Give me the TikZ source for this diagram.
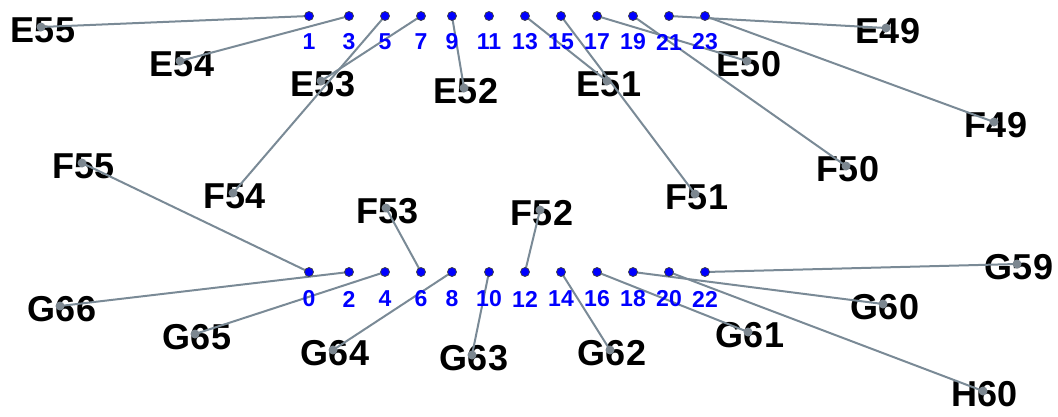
\documentclass[tikz,border=0pt]{standalone}
\usepackage{fontspec}
\setmainfont{Liberation Sans}
\definecolor{pinBlue}{HTML}{0000FF}
\definecolor{wireGray}{HTML}{7A8A96}
\definecolor{tipGray}{HTML}{7C8790}
\usetikzlibrary{positioning,backgrounds}

\begin{document}
\begin{tikzpicture}[x=1pt, y=-1pt,
  pin/.style={circle, fill=pinBlue, draw=black!75, line width=0.7pt, inner sep=0pt, minimum size=9pt},
  tip/.style={circle, fill=tipGray, inner sep=0pt, minimum size=9pt},
  pinnum/.style={font=\fontsize{23}{23}\selectfont\bfseries, text=pinBlue, inner sep=0pt},
  tag/.style={font=\fontsize{36}{36}\selectfont\bfseries, text=black, inner sep=0pt},
  wire/.style={wireGray, line width=2pt}]
  \useasboundingbox (0,0) rectangle (1058,416);

  % Header pins, odd row on top, even row below
  \foreach \n/\x in {1/309,3/349,5/385,7/421,9/452,11/489,13/525,15/561,17/597,19/633,21/669,23/705} {
    \node[pin] (p\n) at (\x,16) {};
    \node[pinnum] (n\n) at (\x,42) {\n};
  }
  \foreach \n/\x in {0/309,2/349,4/385,6/421,8/452,10/489,12/525,14/561,16/597,18/633,20/669,22/705} {
    \node[pin] (p\n) at (\x,272) {};
    \node[pinnum] (n\n) at (\x,299) {\n};
  }

  % Signal tags, upper group
  \node[tip] (E55) at (41,27) {};
  \node[tip] (E54) at (180,61) {};
  \node[tip] (E53) at (321,81) {};
  \node[tip] (E52) at (464,88) {};
  \node[tip] (E51) at (607,81) {};
  \node[tip] (E50) at (747,61) {};
  \node[tip] (E49) at (886,28) {};
  \node[tip] (F49) at (994,122) {};
  \node[tip] (F50) at (846,166) {};
  \node[tip] (F51) at (695,194) {};
  \node[tip] (F54) at (233,193) {};

  % Signal tags, lower group
  \node[tip] (F55) at (82,163) {};
  \node[tip] (F53) at (386,208) {};
  \node[tip] (F52) at (540,210) {};
  \node[tip] (G66) at (60,306) {};
  \node[tip] (G65) at (195,334) {};
  \node[tip] (G64) at (333,350) {};
  \node[tip] (G63) at (472,355) {};
  \node[tip] (G62) at (610,350) {};
  \node[tip] (G61) at (748,332) {};
  \node[tip] (G60) at (883,304) {};
  \node[tip] (G59) at (1017,264) {};
  \node[tip] (H60) at (983,391) {};

  \begin{scope}[on background layer]
    % Tag texts
    \foreach \t in {E55,E54,E53,E52,E51,E50,E49,F49,F50,F51,F54,F55,F53,F52,G66,G65,G64,G63,G62,G61,G60,G59,H60}
      \node[tag] (l\t) at ([shift={(2,3)}]\t.center) {\t};

    % Wires from pins to tags
    \foreach \a/\b in {p1/E55,p3/E54,p5/F54,p7/E53,p9/E52,p13/E51,p15/F51,p17/E50,p19/F50,p21/E49,p23/F49,
                       p0/F55,p2/G66,p4/G65,p6/F53,p8/G64,p10/G63,p12/F52,p14/G62,p16/G61,p18/G60,p20/H60,p22/G59}
      \draw[wire] (\a.center) -- (\b.center);
  \end{scope}
\end{tikzpicture}
\end{document}
